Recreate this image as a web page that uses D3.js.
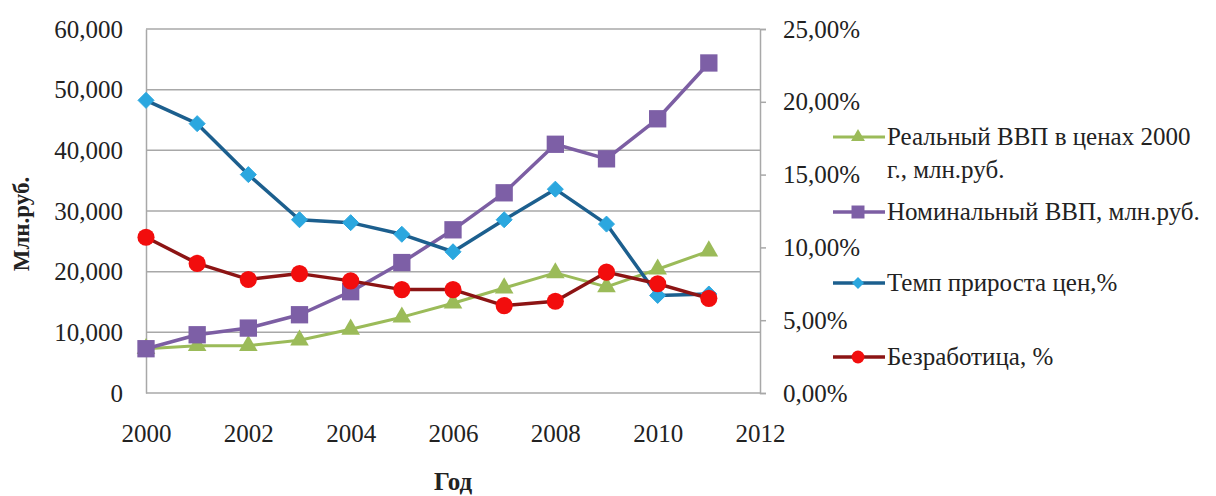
<!DOCTYPE html>
<html>
<head>
<meta charset="utf-8">
<script src="https://cdn.jsdelivr.net/npm/d3@7"></script>
<style>
  html, body { margin: 0; padding: 0; background: #fff; }
  svg text { font-family: "Liberation Serif", "Times New Roman", serif; fill: #222; }
</style>
</head>
<body>
<svg id="chart" width="1216" height="496"></svg>
<script>
// Years along the x axis
const years = [2000, 2001, 2002, 2003, 2004, 2005, 2006, 2007, 2008, 2009, 2010, 2011];

// Left axis series, млн.руб.
const realGdp    = [7300, 7800, 7800, 8700, 10500, 12500, 14800, 17300, 19800, 17500, 20400, 23400];
const nominalGdp = [7300, 9600, 10700, 12900, 16700, 21500, 26900, 33000, 41000, 38600, 45200, 54400];

// Right axis series, %
const priceGrowth  = [20.1, 18.5, 15.0, 11.9, 11.7, 10.9, 9.7, 11.9, 14.0, 11.6, 6.7, 6.8];
const unemployment = [10.7, 8.9, 7.8, 8.2, 7.7, 7.1, 7.1, 6.0, 6.3, 8.3, 7.5, 6.5];

// Tick values
const xTicks = [2000, 2002, 2004, 2006, 2008, 2010, 2012];
const leftTicks = [0, 10000, 20000, 30000, 40000, 50000, 60000];
const rightTicks = [0, 5, 10, 15, 20, 25];

// Legend labels
const legendLabels = [
  ["Реальный ВВП в ценах 2000", "г., млн.руб."],
  ["Номинальный ВВП, млн.руб."],
  ["Темп прироста цен,%"],
  ["Безработица, %"]
];

const FONT = '"Liberation Serif", "Times New Roman", serif';

const svg = d3.select("#chart");
const plot = { left: 146, right: 760, top: 29, bottom: 393 };

const x = d3.scaleLinear().domain([2000, 2012]).range([plot.left, plot.right]);
const yL = d3.scaleLinear().domain([0, 60000]).range([plot.bottom, plot.top]);
const yR = d3.scaleLinear().domain([0, 25]).range([plot.bottom, plot.top]);

// Horizontal gridlines from the left axis
svg.append("g")
  .selectAll("line")
  .data(leftTicks)
  .join("line")
  .attr("x1", plot.left).attr("x2", plot.right)
  .attr("y1", d => yL(d)).attr("y2", d => yL(d))
  .attr("stroke", "#a8a8a8").attr("stroke-width", 1.5);

// Left axis
const fmtThousands = d => d === 0 ? "0" : d3.format(",")(d);
const gL = svg.append("g").attr("transform", `translate(${plot.left},0)`)
  .call(d3.axisLeft(yL).tickValues(leftTicks).tickFormat(fmtThousands).tickSize(0).tickPadding(23));
gL.attr("font-family", FONT);
gL.select(".domain").attr("stroke", "#a8a8a8").attr("stroke-width", 1.5);
gL.selectAll("text").attr("font-size", 25).attr("fill", "#222");

// Right axis
const fmtPct = d => d.toFixed(2).replace(".", ",") + "%";
const gR = svg.append("g").attr("transform", `translate(${plot.right},0)`)
  .call(d3.axisRight(yR).tickValues(rightTicks).tickFormat(fmtPct).tickSize(6).tickPadding(17));
gR.attr("font-family", FONT);
gR.select(".domain").attr("stroke", "#a8a8a8").attr("stroke-width", 1.5);
gR.selectAll(".tick line").attr("stroke", "#a8a8a8").attr("stroke-width", 1.5);
gR.selectAll("text").attr("font-size", 25).attr("fill", "#222");

// Bottom axis labels
const gX = svg.append("g").attr("transform", `translate(0,${plot.bottom})`)
  .call(d3.axisBottom(x).tickValues(xTicks).tickFormat(d3.format("d")).tickSize(0).tickPadding(31));
gX.attr("font-family", FONT);
gX.select(".domain").remove();
gX.selectAll("text").attr("font-size", 25).attr("fill", "#222");

// Axis titles
svg.append("text")
  .attr("transform", "translate(29,224) rotate(-90)")
  .attr("text-anchor", "middle")
  .attr("font-size", 23).attr("font-weight", "bold")
  .text("Млн.руб.");
svg.append("text")
  .attr("x", 453).attr("y", 490)
  .attr("text-anchor", "middle")
  .attr("font-size", 25).attr("font-weight", "bold")
  .text("Год");

// Series definitions
const series = [
  { values: realGdp, y: yL, line: "#9bbb59", fill: "#9bbb59", marker: "triangle", width: 3 },
  { values: nominalGdp, y: yL, line: "#7c5ea3", fill: "#7d5fa6", marker: "square", width: 3.5 },
  { values: priceGrowth, y: yR, line: "#1c5f8e", fill: "#2ba7df", marker: "diamond", width: 3.5 },
  { values: unemployment, y: yR, line: "#8c1414", fill: "#f20d0d", marker: "circle", width: 3.5 }
];

function markerPath(kind) {
  if (kind === "triangle") return d3.symbol().type(d3.symbolTriangle).size(150)();
  if (kind === "square") return d3.symbol().type(d3.symbolSquare).size(300)();
  if (kind === "diamond") return "M0,-8L8,0L0,8L-8,0Z";
  return d3.symbol().type(d3.symbolCircle).size(230)();
}

series.forEach(s => {
  const g = svg.append("g");
  const line = d3.line().x((d, i) => x(years[i])).y(d => s.y(d));
  g.append("path")
    .attr("d", line(s.values))
    .attr("fill", "none")
    .attr("stroke", s.line)
    .attr("stroke-width", s.width)
    .attr("stroke-linejoin", "round");
  g.selectAll("path.mk")
    .data(s.values)
    .join("path")
    .attr("class", "mk")
    .attr("d", markerPath(s.marker))
    .attr("transform", (d, i) => `translate(${x(years[i])},${s.y(d)})`)
    .attr("fill", s.fill)
    .attr("stroke", s.marker === "diamond" ? "#2ba7df" : "none");
});

// Legend
const legendRows = [137, 212, 283, 357];
const lg = svg.append("g").attr("font-family", FONT);
series.forEach((s, i) => {
  const yy = legendRows[i];
  lg.append("line")
    .attr("x1", 833).attr("x2", 885).attr("y1", yy).attr("y2", yy)
    .attr("stroke", s.line).attr("stroke-width", s.width);
  lg.append("path")
    .attr("d", markerPath(s.marker))
    .attr("transform", `translate(858,${yy}) scale(0.75)`)
    .attr("fill", s.fill);
  const t = lg.append("text")
    .attr("x", 887).attr("y", yy + 8)
    .attr("font-size", 25);
  legendLabels[i].forEach((ln, j) => {
    t.append("tspan").attr("x", 887).attr("dy", j === 0 ? 0 : 33).text(ln);
  });
});
</script>
</body>
</html>
